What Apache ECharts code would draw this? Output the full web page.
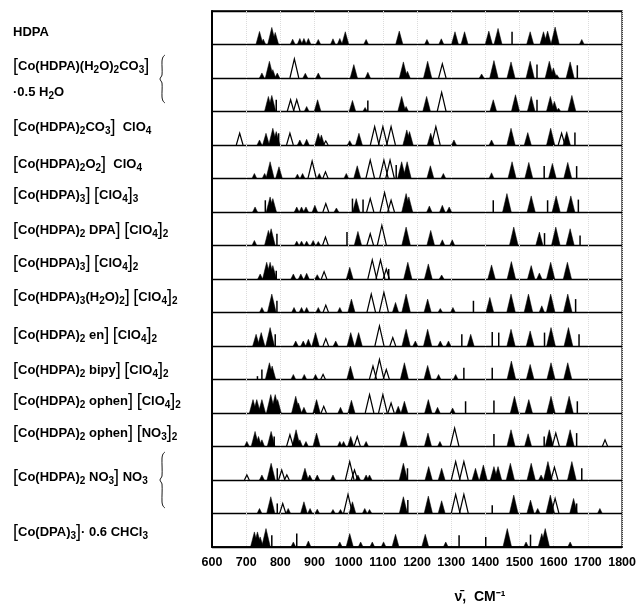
<!DOCTYPE html>
<html><head><meta charset="utf-8">
<script src="https://cdn.jsdelivr.net/npm/echarts@6/dist/echarts.min.js"></script>
<style>html,body{margin:0;padding:0;background:#fff}#c{width:639px;height:615px}</style>
</head><body><div id="c"></div>
<script>
// ---- data ----
const xMin = 600, xMax = 1800, xStep = 100;
const axisTitle = 'ν̄,  CM⁻¹';

// label markup: "_d" = subscript digit, [ ] = tall brackets
const rowLabels = [
  ['HDPA'],
  ['[Co(HDPA)(H_2O)_2CO_3]', '·0.5 H_2O'],
  ['[Co(HDPA)_2CO_3]  ClO_4'],
  ['[Co(HDPA)_2O_2]  ClO_4'],
  ['[Co(HDPA)_3] [ClO_4]_3'],
  ['[Co(HDPA)_2 DPA] [ClO_4]_2'],
  ['[Co(HDPA)_3] [ClO_4]_2'],
  ['[Co(HDPA)_3(H_2O)_2] [ClO_4]_2'],
  ['[Co(HDPA)_2 en] [ClO_4]_2'],
  ['[Co(HDPA)_2 bipy] [ClO_4]_2'],
  ['[Co(HDPA)_2 ophen] [ClO_4]_2'],
  ['[Co(HDPA)_2 ophen] [NO_3]_2'],
  ['[Co(HDPA)_2 NO_3] NO_3'],
  ['[Co(DPA)_3]· 0.6 CHCl_3']
];

// peaks: [wavenumber cm-1, relative height, type f=filled o=open s=stick]
const row01 = [[739,.39,'f'],[750,.16,'f'],[775,.51,'f'],[785,.36,'f'],[836,.16,'f'],[857,.18,'f'],[869,.18,'f'],[882,.18,'f'],[911,.15,'f'],[954,.17,'f'],[974,.18,'f'],[990,.38,'f'],[1051,.15,'f'],[1148,.40,'f'],[1229,.15,'f'],[1271,.17,'f'],[1311,.38,'f'],[1339,.38,'f'],[1410,.40,'f'],[1437,.48,'f'],[1478,.38,'s'],[1531,.38,'f'],[1570,.38,'f'],[1582,.40,'f'],[1604,.52,'f'],[1682,.15,'f']];
const row02 = [[746,.15,'f'],[768,.50,'f'],[778,.25,'f'],[791,.15,'f'],[841,.57,'o'],[873,.14,'f'],[911,.15,'f'],[1015,.40,'f'],[1056,.17,'f'],[1160,.48,'f'],[1172,.20,'f'],[1231,.50,'f'],[1274,.42,'o'],[1389,.12,'f'],[1425,.52,'f'],[1475,.48,'f'],[1531,.50,'f'],[1551,.40,'s'],[1587,.50,'f'],[1599,.30,'f'],[1609,.10,'f'],[1648,.48,'f'],[1669,.38,'s']];
const row03 = [[765,.45,'f'],[775,.48,'f'],[788,.35,'s'],[830,.35,'o'],[848,.35,'o'],[877,.15,'f'],[909,.35,'f'],[1011,.33,'f'],[1048,.12,'f'],[1056,.33,'s'],[1155,.45,'f'],[1168,.15,'f'],[1228,.45,'f'],[1272,.57,'o'],[1423,.35,'f'],[1488,.50,'f'],[1534,.45,'f'],[1551,.35,'s'],[1590,.45,'f'],[1602,.30,'f'],[1614,.10,'f'],[1653,.48,'f']];
const row04 = [[681,.35,'o'],[739,.15,'f'],[758,.35,'f'],[778,.50,'f'],[788,.40,'f'],[795,.35,'s'],[828,.35,'o'],[857,.15,'f'],[877,.17,'f'],[911,.35,'f'],[920,.30,'f'],[933,.12,'o'],[1003,.13,'f'],[1030,.35,'f'],[1076,.55,'o'],[1100,.55,'o'],[1124,.55,'o'],[1170,.45,'f'],[1178,.40,'f'],[1240,.35,'f'],[1255,.55,'o'],[1308,.15,'f'],[1418,.15,'f'],[1475,.50,'f'],[1524,.37,'f'],[1591,.50,'f'],[1623,.35,'o'],[1638,.40,'f'],[1662,.37,'s']];
const row05 = [[724,.15,'f'],[754,.15,'f'],[770,.50,'f'],[796,.35,'f'],[850,.13,'f'],[865,.15,'f'],[893,.52,'o'],[914,.15,'f'],[932,.20,'o'],[993,.15,'f'],[1025,.38,'f'],[1063,.55,'o'],[1103,.55,'o'],[1121,.55,'o'],[1139,.40,'s'],[1155,.50,'f'],[1171,.50,'f'],[1239,.38,'f'],[1277,.15,'f'],[1418,.17,'f'],[1478,.50,'f'],[1527,.48,'f'],[1572,.37,'s'],[1596,.45,'f'],[1641,.48,'f'],[1667,.37,'s']];
const row06 = [[726,.15,'f'],[756,.35,'s'],[770,.45,'f'],[778,.40,'f'],[848,.15,'f'],[862,.15,'f'],[875,.15,'f'],[901,.20,'f'],[933,.25,'o'],[964,.12,'f'],[1011,.40,'s'],[1022,.40,'f'],[1042,.37,'s'],[1063,.40,'o'],[1105,.58,'o'],[1124,.35,'o'],[1168,.55,'f'],[1176,.45,'f'],[1236,.18,'f'],[1274,.20,'f'],[1294,.15,'f'],[1423,.35,'s'],[1463,.55,'f'],[1534,.48,'f'],[1582,.35,'s'],[1607,.48,'f'],[1650,.48,'f'],[1672,.37,'s']];
const row07 = [[724,.15,'f'],[765,.45,'f'],[773,.50,'f'],[790,.35,'s'],[848,.13,'f'],[862,.13,'f'],[877,.13,'f'],[896,.15,'f'],[911,.12,'f'],[932,.25,'o'],[995,.40,'s'],[1027,.42,'f'],[1063,.35,'o'],[1097,.60,'o'],[1168,.55,'f'],[1240,.45,'f'],[1274,.17,'f'],[1303,.17,'f'],[1483,.55,'f'],[1558,.40,'f'],[1573,.37,'s'],[1606,.55,'f'],[1648,.50,'f'],[1677,.30,'s']];
const row08 = [[741,.15,'f'],[760,.50,'f'],[770,.50,'f'],[778,.40,'f'],[788,.25,'s'],[838,.15,'f'],[860,.15,'f'],[877,.17,'f'],[908,.13,'f'],[928,.22,'o'],[1003,.35,'f'],[1069,.57,'o'],[1093,.57,'o'],[1110,.30,'o'],[1117,.30,'s'],[1173,.50,'f'],[1233,.45,'f'],[1272,.12,'f'],[1418,.42,'f'],[1476,.52,'f'],[1534,.40,'f'],[1558,.18,'f'],[1591,.50,'f'],[1640,.50,'f']];
const row09 = [[746,.15,'f'],[775,.55,'f'],[790,.35,'s'],[840,.15,'f'],[862,.15,'f'],[877,.15,'f'],[911,.15,'f'],[933,.22,'o'],[974,.15,'f'],[1008,.40,'f'],[1066,.55,'o'],[1103,.60,'o'],[1137,.30,'f'],[1168,.55,'f'],[1231,.40,'f'],[1268,.12,'f'],[1305,.15,'f'],[1365,.35,'s'],[1413,.45,'f'],[1475,.55,'f'],[1526,.55,'f'],[1565,.20,'f'],[1591,.55,'f'],[1641,.55,'f'],[1664,.40,'s']];
const row10 = [[729,.35,'f'],[744,.40,'f'],[770,.55,'f'],[785,.35,'s'],[845,.15,'f'],[867,.15,'f'],[882,.20,'f'],[903,.40,'f'],[933,.22,'o'],[962,.15,'f'],[1006,.40,'f'],[1029,.40,'f'],[1090,.60,'o'],[1129,.25,'o'],[1168,.50,'f'],[1195,.15,'f'],[1231,.50,'f'],[1268,.15,'f'],[1292,.15,'f'],[1331,.35,'s'],[1357,.35,'f'],[1420,.42,'s'],[1439,.40,'s'],[1475,.50,'f'],[1531,.45,'f'],[1573,.40,'s'],[1592,.55,'f'],[1643,.55,'f'],[1674,.35,'s']];
const row11 = [[733,.10,'s'],[746,.30,'s'],[768,.50,'f'],[776,.40,'f'],[838,.15,'f'],[870,.15,'f'],[903,.15,'f'],[925,.15,'o'],[1005,.40,'f'],[1071,.40,'o'],[1090,.60,'o'],[1110,.30,'o'],[1163,.50,'f'],[1231,.42,'f'],[1263,.15,'f'],[1313,.15,'f'],[1337,.35,'s'],[1420,.35,'s'],[1476,.55,'f'],[1531,.45,'f'],[1592,.50,'f'],[1641,.50,'f']];
const row12 = [[720,.40,'f'],[731,.40,'f'],[746,.40,'f'],[772,.55,'f'],[785,.55,'f'],[792,.40,'f'],[845,.50,'f'],[853,.30,'f'],[869,.17,'f'],[906,.40,'f'],[927,.20,'o'],[976,.17,'f'],[1008,.38,'f'],[1061,.55,'o'],[1100,.55,'o'],[1124,.30,'o'],[1145,.20,'f'],[1163,.35,'f'],[1233,.40,'f'],[1260,.17,'f'],[1304,.15,'f'],[1342,.35,'s'],[1425,.37,'s'],[1485,.50,'f'],[1527,.40,'f'],[1592,.50,'f'],[1645,.50,'f'],[1669,.35,'s']];
const row13 = [[702,.15,'f'],[726,.45,'f'],[736,.30,'f'],[746,.20,'f'],[773,.45,'f'],[782,.30,'s'],[828,.35,'o'],[846,.50,'f'],[857,.20,'f'],[875,.15,'f'],[906,.40,'f'],[974,.15,'f'],[985,.15,'f'],[1006,.30,'f'],[1025,.30,'o'],[1051,.15,'f'],[1161,.45,'f'],[1232,.40,'f'],[1267,.15,'f'],[1310,.55,'o'],[1425,.37,'s'],[1475,.50,'f'],[1525,.38,'f'],[1572,.30,'s'],[1587,.50,'f'],[1606,.40,'o'],[1648,.50,'f'],[1667,.40,'s'],[1750,.20,'o']];
const row14 = [[702,.15,'o'],[746,.15,'f'],[773,.50,'f'],[791,.35,'s'],[804,.30,'o'],[819,.15,'o'],[872,.35,'f'],[886,.15,'f'],[908,.15,'f'],[954,.15,'f'],[1003,.55,'o'],[1017,.30,'o'],[1027,.15,'f'],[1051,.15,'f'],[1061,.15,'f'],[1160,.50,'f'],[1172,.35,'s'],[1234,.40,'f'],[1272,.35,'f'],[1313,.55,'o'],[1337,.55,'o'],[1371,.35,'f'],[1394,.45,'f'],[1425,.40,'f'],[1437,.40,'f'],[1473,.50,'f'],[1534,.50,'f'],[1563,.15,'f'],[1583,.55,'f'],[1602,.38,'o'],[1653,.55,'f'],[1682,.35,'s']];
const row15 = [[739,.15,'f'],[772,.50,'f'],[791,.30,'s'],[807,.30,'o'],[823,.15,'f'],[869,.35,'f'],[887,.15,'f'],[908,.13,'f'],[954,.12,'f'],[976,.12,'f'],[998,.57,'o'],[1011,.35,'f'],[1047,.15,'f'],[1061,.12,'f'],[1160,.50,'f'],[1173,.40,'s'],[1233,.52,'f'],[1272,.38,'f'],[1313,.57,'o'],[1337,.57,'o'],[1420,.25,'s'],[1483,.55,'f'],[1532,.40,'f'],[1553,.15,'f'],[1590,.55,'f'],[1604,.45,'o'],[1658,.45,'f'],[1667,.30,'s'],[1735,.15,'f']];
const row16 = [[724,.45,'f'],[733,.45,'f'],[741,.30,'f'],[758,.55,'f'],[775,.35,'s'],[838,.15,'f'],[848,.40,'s'],[882,.18,'f'],[974,.15,'f'],[1003,.40,'f'],[1035,.15,'f'],[1069,.15,'f'],[1102,.15,'f'],[1137,.38,'f'],[1224,.38,'f'],[1284,.15,'f'],[1323,.35,'s'],[1401,.30,'s'],[1464,.55,'f'],[1519,.15,'f'],[1532,.37,'s'],[1565,.40,'f'],[1575,.55,'f'],[1648,.15,'f']];

const rows = [row01,row02,row03,row04,row05,row06,row07,row08,row09,row10,row11,row12,row13,row14,row15,row16];

// ---- layout (positions only) ----
const nRows = rows.length;
const labelY = [[32],[66,92],[127],[164],[195],[230],[263],[297],[335],[370],[401],[433],[477],[532]];
const braces = [[55,103],[452,508]];
const LF = "'Liberation Sans', Arial, sans-serif";

const typeCode = {f:0, o:1, s:2};
const peaks = [];
rows.forEach((r, i) => {
  const base = nRows - 1 - i;
  r.forEach(p => peaks.push([p[0], base, p[1], typeCode[p[2]]]));
});

function toRich(s){
  let out = '', buf = '';
  const flush = () => { if (buf) { out += '{n|' + buf + '}'; buf = ''; } };
  for (let i = 0; i < s.length; i++) {
    const c = s[i];
    if (c === '_') { flush(); out += '{s|' + s[i+1] + '}'; i++; }
    else if (c === '[' || c === ']') { flush(); out += '{b|' + c + '}'; }
    else buf += c;
  }
  flush();
  return out;
}
const rich = {
  n: {fontSize: 13, fontWeight: 'bold', fontFamily: LF, lineHeight: 20, verticalAlign: 'middle', fill: '#000', color: '#000'},
  s: {fontSize: 10, fontWeight: 'bold', fontFamily: LF, verticalAlign: 'middle', padding: [8, 0, 0, 0], fill: '#000', color: '#000'},
  b: {fontSize: 18, fontWeight: 'normal', fontFamily: LF, lineHeight: 20, verticalAlign: 'middle', fill: '#000', color: '#000'}
};

const graphics = [];
rowLabels.forEach((lines, k) => {
  lines.forEach((ln, j) => {
    graphics.push({type: 'text', x: 13, y: labelY[k][j], z: 10,
      style: {text: toRich(ln), rich: rich, verticalAlign: 'middle', align: 'left', fill: '#000'}});
  });
});
braces.forEach(([y0, y1]) => {
  const m = (y0 + y1) / 2, x = 163;
  graphics.push({type: 'polyline', z: 10,
    shape: {points: [[x+2,y0],[x,y0+2],[x-1,y0+6],[x-1,m-4],[x-3,m],[x-1,m+4],[x-1,y1-6],[x,y1-2],[x+2,y1]], smooth: 0.3},
    style: {stroke: '#000', fill: null, lineWidth: 0.9}});
});
graphics.push({type: 'text', x: 480, y: 597, z: 10,
  style: {text: axisTitle, font: "bold 14px " + LF, fill: '#000', align: 'center', verticalAlign: 'middle'}});

const chart = echarts.init(document.getElementById('c'), null, {renderer: 'canvas'});
chart.setOption({
  animation: false,
  backgroundColor: '#fff',
  grid: {left: 212, right: 15, top: 11, bottom: 68, show: true, borderColor: '#000', borderWidth: 1.3},
  xAxis: {
    type: 'value', min: xMin, max: xMax, interval: xStep,
    axisLine: {show: true, lineStyle: {color: '#000', width: 1.5}},
    axisTick: {show: false},
    splitLine: {show: true, lineStyle: {color: '#dcdcdc', type: 'dotted', width: 1}},
    axisLabel: {color: '#000', fontWeight: 'bold', fontSize: 12.5, fontFamily: LF, margin: 9,
      showMinLabel: true, showMaxLabel: true, formatter: v => String(v)}
  },
  yAxis: {
    type: 'value', min: 0, max: nRows, interval: 1,
    axisLine: {show: true, lineStyle: {color: '#000', width: 2}},
    axisTick: {show: false}, axisLabel: {show: false},
    splitLine: {show: true, lineStyle: {color: '#000', width: 1.3}}
  },
  series: [{
    type: 'custom',
    data: peaks,
    encode: {x: 0, y: 1},
    clip: false,
    renderItem: function(params, api){
      const w = api.value(0), base = api.value(1), h = api.value(2), t = api.value(3);
      const hw = 5 + 14 * h;
      const p0 = api.coord([w - hw, base]);
      const p1 = api.coord([w, base + h]);
      const p2 = api.coord([w + hw, base]);
      if (t === 2) {
        const b = api.coord([w, base]);
        return {type: 'line', shape: {x1: b[0], y1: b[1], x2: p1[0], y2: p1[1]}, style: {stroke: '#000', lineWidth: 1.5}};
      }
      if (t === 1) {
        return {type: 'polyline', shape: {points: [p0, p1, p2]}, style: {stroke: '#000', fill: null, lineWidth: 1.2}};
      }
      return {type: 'polygon', shape: {points: [p0, p1, p2]}, style: {fill: '#000', stroke: '#000', lineWidth: 0.5}};
    }
  }],
  graphic: graphics
});
</script>
</body></html>
